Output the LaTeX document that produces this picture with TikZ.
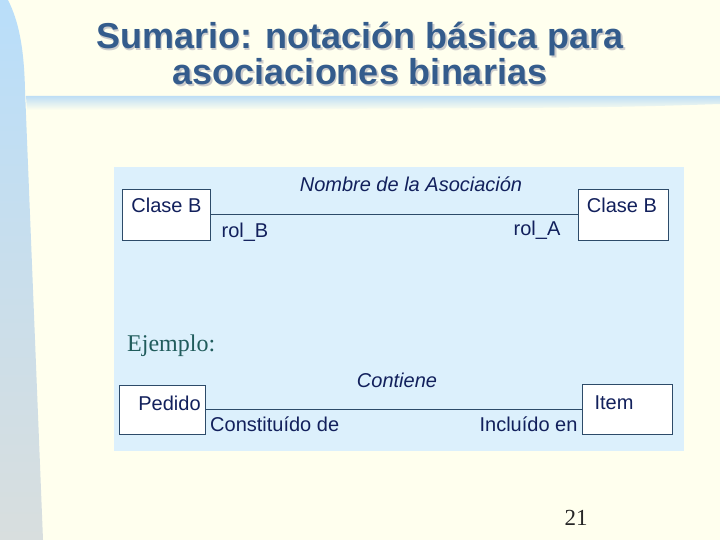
\documentclass[tikz,border=0pt]{standalone}
\usepackage{fontspec}
\setmainfont{Liberation Sans}
\newfontfamily\serifa{Liberation Serif}
\usetikzlibrary{shapes.geometric, arrows}
\definecolor{crema}{RGB}{255,255,238}
\definecolor{panel}{RGB}{220,240,252}
\definecolor{azulT}{RGB}{52,92,140}
\definecolor{tinta}{RGB}{18,32,92}
\definecolor{borde}{RGB}{45,75,105}
\definecolor{verdeE}{RGB}{32,92,92}
\tikzstyle{clase} = [draw=borde, line width=0.9pt, fill=white, inner sep=0pt]
\tikzstyle{txt} = [text=tinta, font=\fontsize{20}{22}\selectfont, anchor=base, inner sep=0pt]
\tikzstyle{asoc} = [draw=borde, line width=1pt]
\tikzstyle{titulo} = [font=\fontsize{36}{40}\selectfont\bfseries, anchor=base]

\begin{document}
\begin{tikzpicture}[x=1pt, y=-1pt]
        \useasboundingbox (0,0) rectangle (720,540);
        \fill[crema] (0,0) rectangle (720,540);
        % banda izquierda
        \shade[top color={rgb,255:red,185;green,222;blue,250}, bottom color={rgb,255:red,216;green,222;blue,222}]
            (0,0) -- (8,0) .. controls (18,20) and (24,45) .. (25,90) -- (43,540) -- (0,540) -- cycle;
        % banda bajo el titulo
        \shade[top color={rgb,255:red,190;green,222;blue,245}, bottom color=crema]
            (26,96) -- (720,96) -- (720,104) .. controls (600,108) .. (27,110) -- cycle;
        % titulo
        \node (tit1)[titulo, text=gray!40] at (361.5,50.5) {Sumario: notación básica para};
        \node (tit2)[titulo, text=gray!40] at (361.5,86.5) {asociaciones binarias};
        \node (tit1b)[titulo, text=azulT] at (360,49) {Sumario: notación básica para};
        \node (tit2b)[titulo, text=azulT] at (360,85) {asociaciones binarias};
        % panel
        \fill[panel] (114,167) rectangle (684,451);
        % notacion
        \node (claseA)[clase, minimum width=88pt, minimum height=51pt] at (166,214.5) {};
        \node (claseB)[clase, minimum width=90pt, minimum height=51pt] at (623,214.5) {};
        \draw [asoc] (claseA) -- (claseB);
        \node (nomA)[txt] at (166.5,213) {Clase B};
        \node (nomB)[txt] at (622,213) {Clase B};
        \node (nombre)[txt, font=\fontsize{20}{22}\selectfont\itshape] at (411,192) {Nombre de la Asociación};
        \node (rolB)[txt] at (245,237) {rol\_B};
        \node (rolA)[txt] at (537,236) {rol\_A};
        % ejemplo
        \node (ejemplo)[text=verdeE, font=\serifa\fontsize{24}{26}\selectfont, anchor=base west, inner sep=0pt] at (127,351) {Ejemplo:};
        \node (pedido)[clase, minimum width=86pt, minimum height=49pt] at (162,409.5) {};
        \node (item)[clase, minimum width=90pt, minimum height=50pt] at (627,409.5) {};
        \draw [asoc] (pedido) -- (item);
        \node (nomP)[txt] at (169.5,410) {Pedido};
        \node (nomI)[txt] at (614,409) {Item};
        \node (contiene)[txt, font=\fontsize{20}{22}\selectfont\itshape] at (397,387) {Contiene};
        \node (rolP)[txt, anchor=base west] at (210,431) {Constituído de};
        \node (rolI)[txt] at (528.5,431) {Incluído en};
        % pagina
        \node (pag)[text=black!85, font=\serifa\fontsize{23}{25}\selectfont, anchor=base, inner sep=0pt] at (576,525) {21};
    \end{tikzpicture}
\end{document}
